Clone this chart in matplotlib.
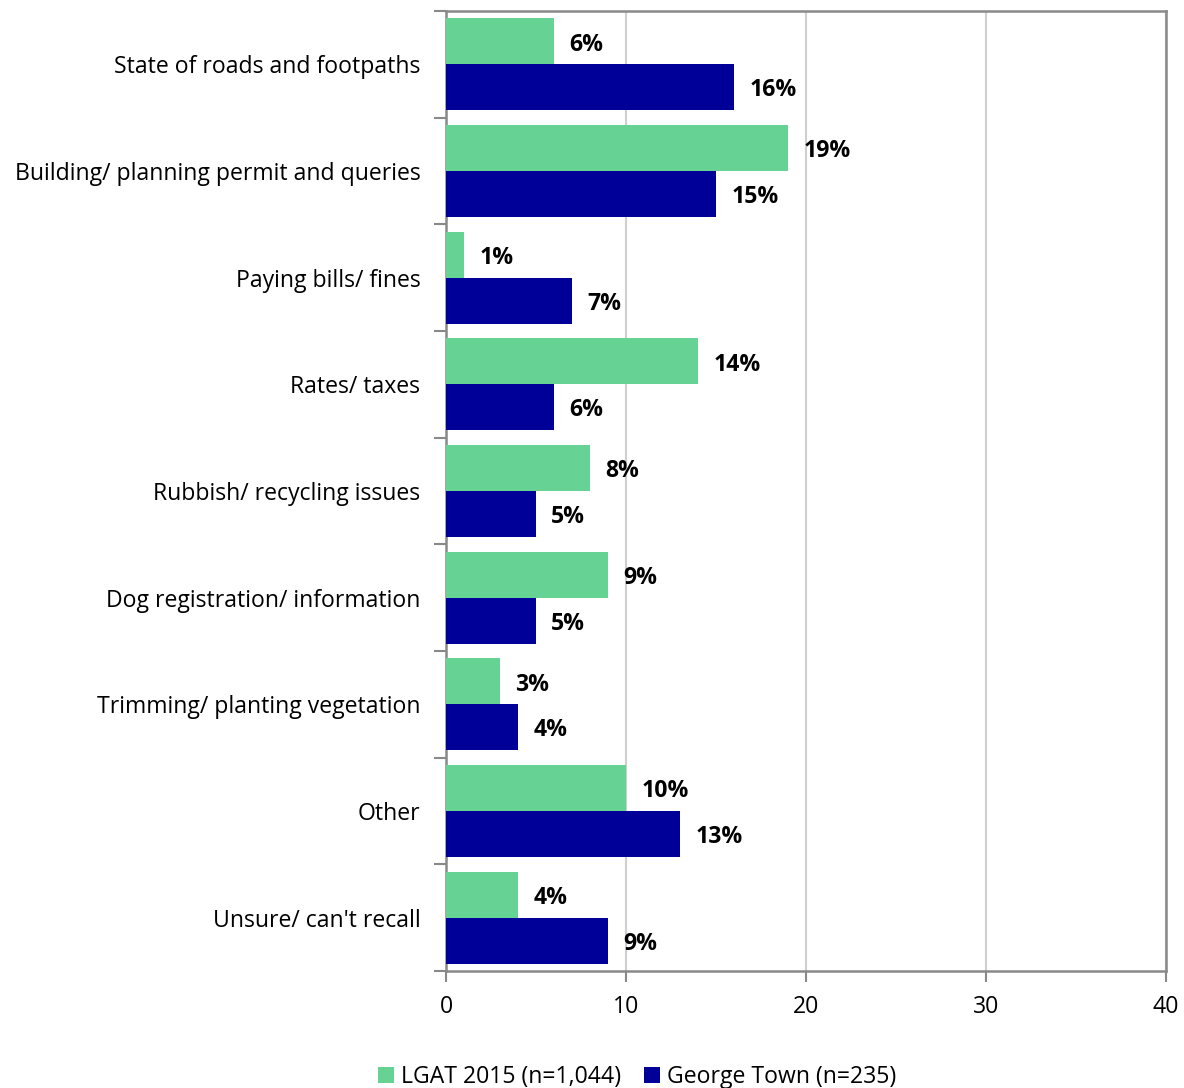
import matplotlib

matplotlib.use("Agg")
import matplotlib.pyplot as plt
import numpy as np

categories = [
    "State of roads and footpaths",
    "Building/ planning permit and queries",
    "Paying bills/ fines",
    "Rates/ taxes",
    "Rubbish/ recycling issues",
    "Dog registration/ information",
    "Trimming/ planting vegetation",
    "Other",
    "Unsure/ can't recall",
]
lgat_2015 = [6, 19, 1, 14, 8, 9, 3, 10, 4]
george_town = [16, 15, 7, 6, 5, 5, 4, 13, 9]
series_names = ["LGAT 2015 (n=1,044)", "George Town (n=235)"]
x_ticks = [0, 10, 20, 30, 40]

GREEN = "#66d394"
BLUE = "#000099"
EDGE = "#898989"
GRID = "#cfcfcf"
FS = 16.6

plt.rcParams["font.family"] = ["Open Sans", "DejaVu Sans"]

fig = plt.figure(figsize=(11.84, 10.88), dpi=100)
ax = fig.add_axes([446 / 1184, 117 / 1088, 720 / 1184, 960 / 1088])

y = np.arange(len(categories))
h = 0.43
bars_g = ax.barh(y - h / 2, lgat_2015, height=h, color=GREEN, label=series_names[0], zorder=3)
bars_b = ax.barh(y + h / 2, george_town, height=h, color=BLUE, label=series_names[1], zorder=3)

for bars, vals in ((bars_g, lgat_2015), (bars_b, george_town)):
    for bar, v in zip(bars, vals):
        ax.text(v + 0.85, bar.get_y() + bar.get_height() / 2 + 0.03, f"{v}%",
                va="center", ha="left", fontsize=FS, fontweight="bold", color="black")

ax.set_xlim(0, 40)
ax.set_ylim(len(categories) - 0.5, -0.5)
ax.set_xticks(x_ticks)
ax.set_xticklabels([str(t) for t in x_ticks], fontsize=FS)
ax.xaxis.grid(True, color=GRID, linewidth=1.5, zorder=0)

# category labels sit on major ticks, boundary marks on minor ticks
ax.set_yticks(y)
ax.set_yticklabels(categories, fontsize=FS)
ax.set_yticks(np.arange(len(categories) + 1) - 0.5, minor=True)
ax.tick_params(axis="y", which="major", length=0, pad=18.5)
ax.tick_params(axis="y", which="minor", length=9, width=1.5, color=EDGE)
ax.tick_params(axis="x", length=8, width=1.5, color=EDGE, pad=9)

for side in ax.spines.values():
    side.set_color(EDGE)
    side.set_linewidth(1.8)

fig.legend(handles=[bars_g, bars_b], labels=series_names, loc="center",
           bbox_to_anchor=(637 / 1184, 11 / 1088), ncol=2, frameon=False,
           fontsize=FS, handlelength=0.7, handleheight=0.7, handletextpad=0.3,
           columnspacing=1.0)

fig.savefig("out.png", dpi=100)
